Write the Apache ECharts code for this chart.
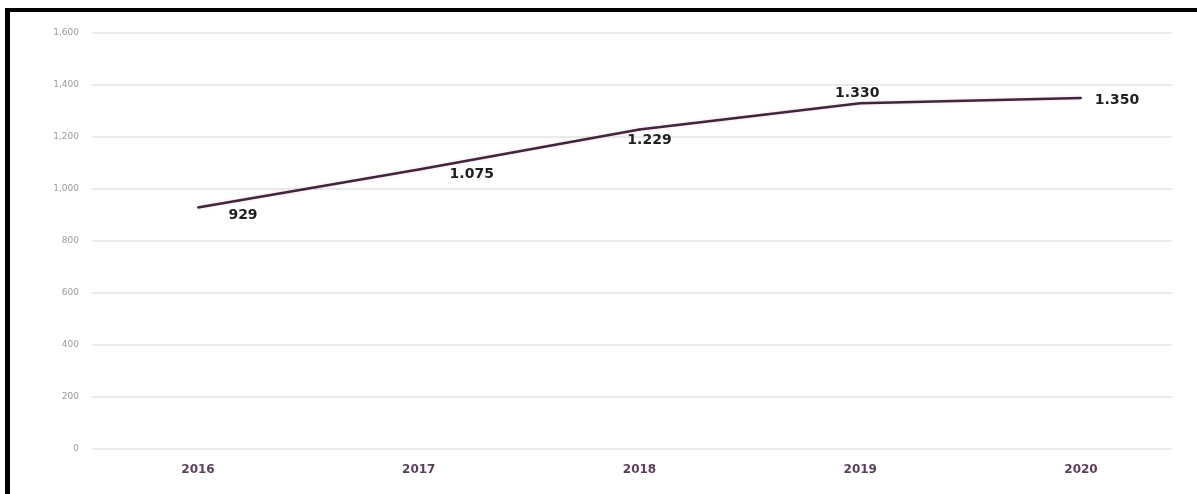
<!DOCTYPE html>
<html>
<head>
<meta charset="utf-8">
<script src="https://cdn.jsdelivr.net/npm/echarts@6/dist/echarts.min.js"></script>
<style>
  html, body { margin: 0; padding: 0; background: #fff; }
  #frame { position: absolute; left: 5px; top: 8px; width: 1192px; height: 486px;
           border-top: 4px solid #000; border-left: 5px solid #000; box-sizing: border-box; }
  #chart { position: absolute; left: 0; top: 0; width: 1197px; height: 494px; }
</style>
</head>
<body>
<div id="chart"></div>
<div id="frame"></div>
<script>
const years = ['2016', '2017', '2018', '2019', '2020'];
const values = [929, 1075, 1229, 1330, 1350];
const yTicks = [0, 200, 400, 600, 800, 1000, 1200, 1400, 1600];

// label shift relative to each point (style only)
const labelShift = [
  [45, 8], [53, 5], [10, 11], [-3, -10], [36, 2]
];

const dotThousands = v => {
  const s = String(v);
  return s.length > 3 ? s.slice(0, s.length - 3) + '.' + s.slice(-3) : s;
};
const commaThousands = v => {
  const s = String(v);
  return s.length > 3 ? s.slice(0, s.length - 3) + ',' + s.slice(-3) : s;
};

const chart = echarts.init(document.getElementById('chart'), null, { renderer: 'canvas' });
chart.setOption({
  animation: false,
  backgroundColor: '#fff',
  grid: [
    { left: 92, right: 25, top: 33, bottom: 45 },
    { left: 198, right: 116, top: 33, bottom: 45 }
  ],
  xAxis: [
    { type: 'category', gridIndex: 0, data: years, show: false },
    {
      type: 'category', gridIndex: 1, data: years, boundaryGap: false,
      axisLine: { show: false }, axisTick: { show: false },
      axisLabel: { color: '#5a3f5c', fontSize: 12, fontWeight: 'bold', margin: 15,
                   fontFamily: 'DejaVu Sans' },
      splitLine: { show: false }
    }
  ],
  yAxis: [
    {
      type: 'value', gridIndex: 0, min: yTicks[0], max: yTicks[yTicks.length - 1], interval: 200,
      axisLine: { show: false }, axisTick: { show: false },
      axisLabel: { color: '#9a9a9a', fontSize: 9, margin: 13, formatter: commaThousands,
                   fontFamily: 'DejaVu Sans' },
      splitLine: { lineStyle: { color: '#e4e4e4', width: 1.5 } }
    },
    {
      type: 'value', gridIndex: 1, min: yTicks[0], max: yTicks[yTicks.length - 1], interval: 200,
      show: false, splitLine: { show: false }
    }
  ],
  series: [{
    type: 'line',
    xAxisIndex: 1, yAxisIndex: 1,
    data: values,
    symbol: 'circle',
    symbolSize: 2,
    showSymbol: true,
    itemStyle: { color: '#3f2639' },
    lineStyle: { color: '#3f2639', width: 2.5, shadowColor: 'rgba(210,120,200,0.35)', shadowBlur: 3 },
    label: {
      show: true,
      position: 'inside',
      color: '#1e1e1e',
      fontSize: 14,
      fontWeight: 'bold',
      fontFamily: 'DejaVu Sans',
      formatter: p => dotThousands(p.value)
    },
    labelLayout: p => ({ dx: labelShift[p.dataIndex][0], dy: labelShift[p.dataIndex][1], hideOverlap: false })
  }]
});
</script>
</body>
</html>
